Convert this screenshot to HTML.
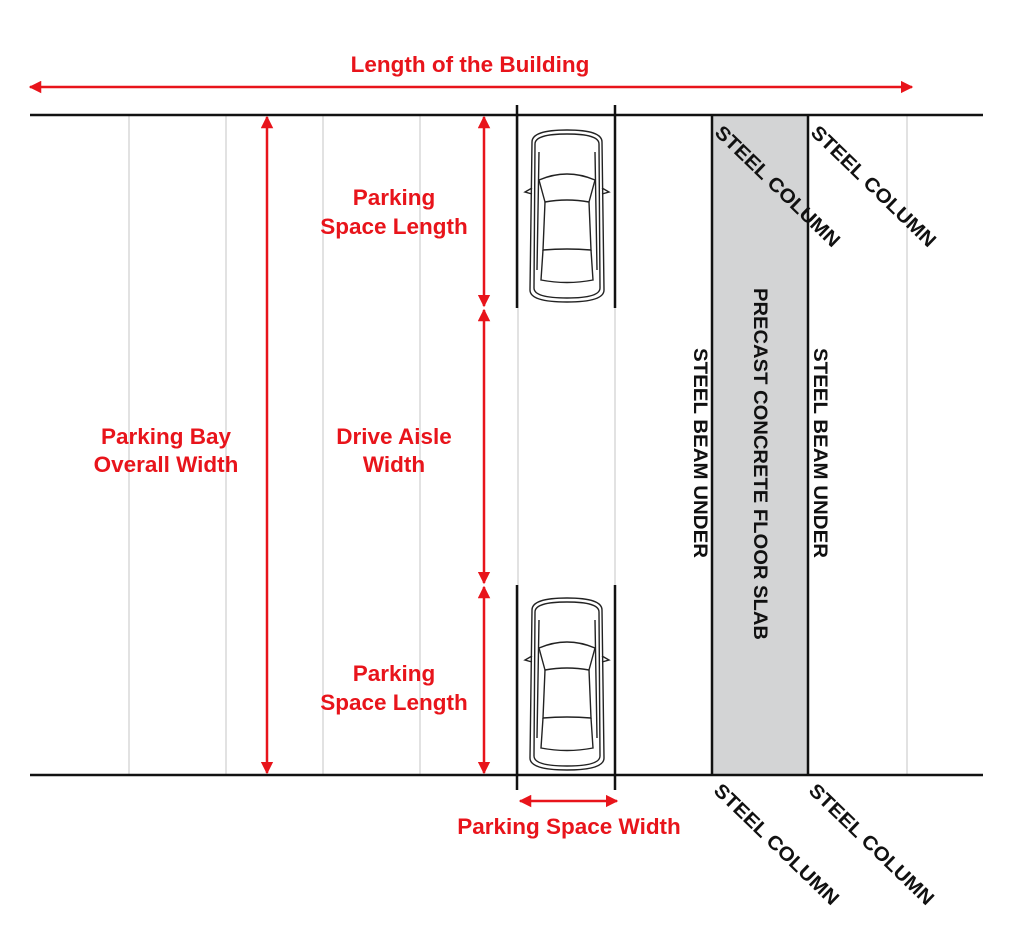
<!DOCTYPE html>
<html><head><style>body{margin:0;background:#fff}svg{display:block}</style></head><body>
<svg width="1024" height="938" viewBox="0 0 1024 938" xmlns="http://www.w3.org/2000/svg" font-family="Liberation Sans, Arial, sans-serif">
<defs>
<marker id="a" viewBox="0 0 10 10" refX="9" refY="5" markerWidth="5" markerHeight="5" orient="auto-start-reverse"><path d="M0,0L10,5L0,10z" fill="#e8141b"/></marker>
<g id="car" fill="none" stroke="#222" stroke-width="1.4">
<path d="M5,12 Q5,0 40,0 Q75,0 75,12 L77,160 Q77,172 40,172 Q3,172 3,160 Z"/>
<path d="M8,14 Q8,4 40,4 Q72,4 72,14 L73,158 Q73,168 40,168 Q7,168 7,158 Z"/>
<path d="M12,50 Q40,38 68,50 L62,72 Q40,68 18,72 Z"/>
<path d="M18,72 L16,120 Q40,118 64,120 L62,72"/>
<path d="M16,120 L14,150 Q40,155 66,150 L64,120"/>
<path d="M5,58 L-2,62 L5,64 M75,58 L82,62 L75,64"/>
<path d="M12,22 L10,140 M68,22 L70,140"/>
</g>
</defs>
<g stroke="#e2e2e2" stroke-width="2">
<line x1="129" y1="115" x2="129" y2="775"/><line x1="226" y1="115" x2="226" y2="775"/>
<line x1="323" y1="115" x2="323" y2="775"/><line x1="420" y1="115" x2="420" y2="775"/>
<line x1="518" y1="115" x2="518" y2="775"/><line x1="615" y1="115" x2="615" y2="775"/>
<line x1="907" y1="115" x2="907" y2="775"/>
</g>
<rect x="712" y="115" width="96" height="660" fill="#d3d4d5"/>
<g stroke="#111" stroke-width="2.5">
<line x1="30" y1="115" x2="983" y2="115"/><line x1="30" y1="775" x2="983" y2="775"/>
<line x1="712" y1="115" x2="712" y2="775"/><line x1="808" y1="115" x2="808" y2="775"/>
<line x1="517" y1="105" x2="517" y2="308"/><line x1="615" y1="105" x2="615" y2="308"/>
<line x1="517" y1="585" x2="517" y2="790"/><line x1="615" y1="585" x2="615" y2="790"/>
</g>
<use href="#car" transform="translate(527,130)"/>
<use href="#car" transform="translate(527,598)"/>
<g stroke="#e8141b" stroke-width="2.5" marker-start="url(#a)" marker-end="url(#a)">
<line x1="30" y1="87" x2="912" y2="87"/>
<line x1="267" y1="117" x2="267" y2="773"/>
<line x1="484" y1="117" x2="484" y2="306"/>
<line x1="484" y1="310" x2="484" y2="583"/>
<line x1="484" y1="587" x2="484" y2="773"/>
<line x1="520" y1="801" x2="617" y2="801"/>
</g>
<g fill="#e8141b" font-weight="bold" font-size="22.5" text-anchor="middle">
<text x="470" y="72">Length of the Building</text>
<text x="394" y="205">Parking</text><text x="394" y="234">Space Length</text>
<text x="394" y="444">Drive Aisle</text><text x="394" y="472">Width</text>
<text x="166" y="444">Parking Bay</text><text x="166" y="472">Overall Width</text>
<text x="394" y="681">Parking</text><text x="394" y="710">Space Length</text>
<text x="569" y="834">Parking Space Width</text>
</g>
<g fill="#111" font-weight="bold" font-size="19.5" text-anchor="middle">
<text transform="translate(694,453) rotate(90) scale(1,1)" textLength="210" lengthAdjust="spacingAndGlyphs">STEEL BEAM UNDER</text>
<text transform="translate(754,464) rotate(90)" textLength="352" lengthAdjust="spacingAndGlyphs">PRECAST CONCRETE FLOOR SLAB</text>
<text transform="translate(814,453) rotate(90)" textLength="210" lengthAdjust="spacingAndGlyphs">STEEL BEAM UNDER</text>
<text transform="translate(773,191) rotate(44)" textLength="165" lengthAdjust="spacingAndGlyphs">STEEL COLUMN</text>
<text transform="translate(869,191) rotate(44)" textLength="165" lengthAdjust="spacingAndGlyphs">STEEL COLUMN</text>
<text transform="translate(772,849) rotate(44)" textLength="165" lengthAdjust="spacingAndGlyphs">STEEL COLUMN</text>
<text transform="translate(867,849) rotate(44)" textLength="165" lengthAdjust="spacingAndGlyphs">STEEL COLUMN</text>
</g>
</svg>
</body></html>
